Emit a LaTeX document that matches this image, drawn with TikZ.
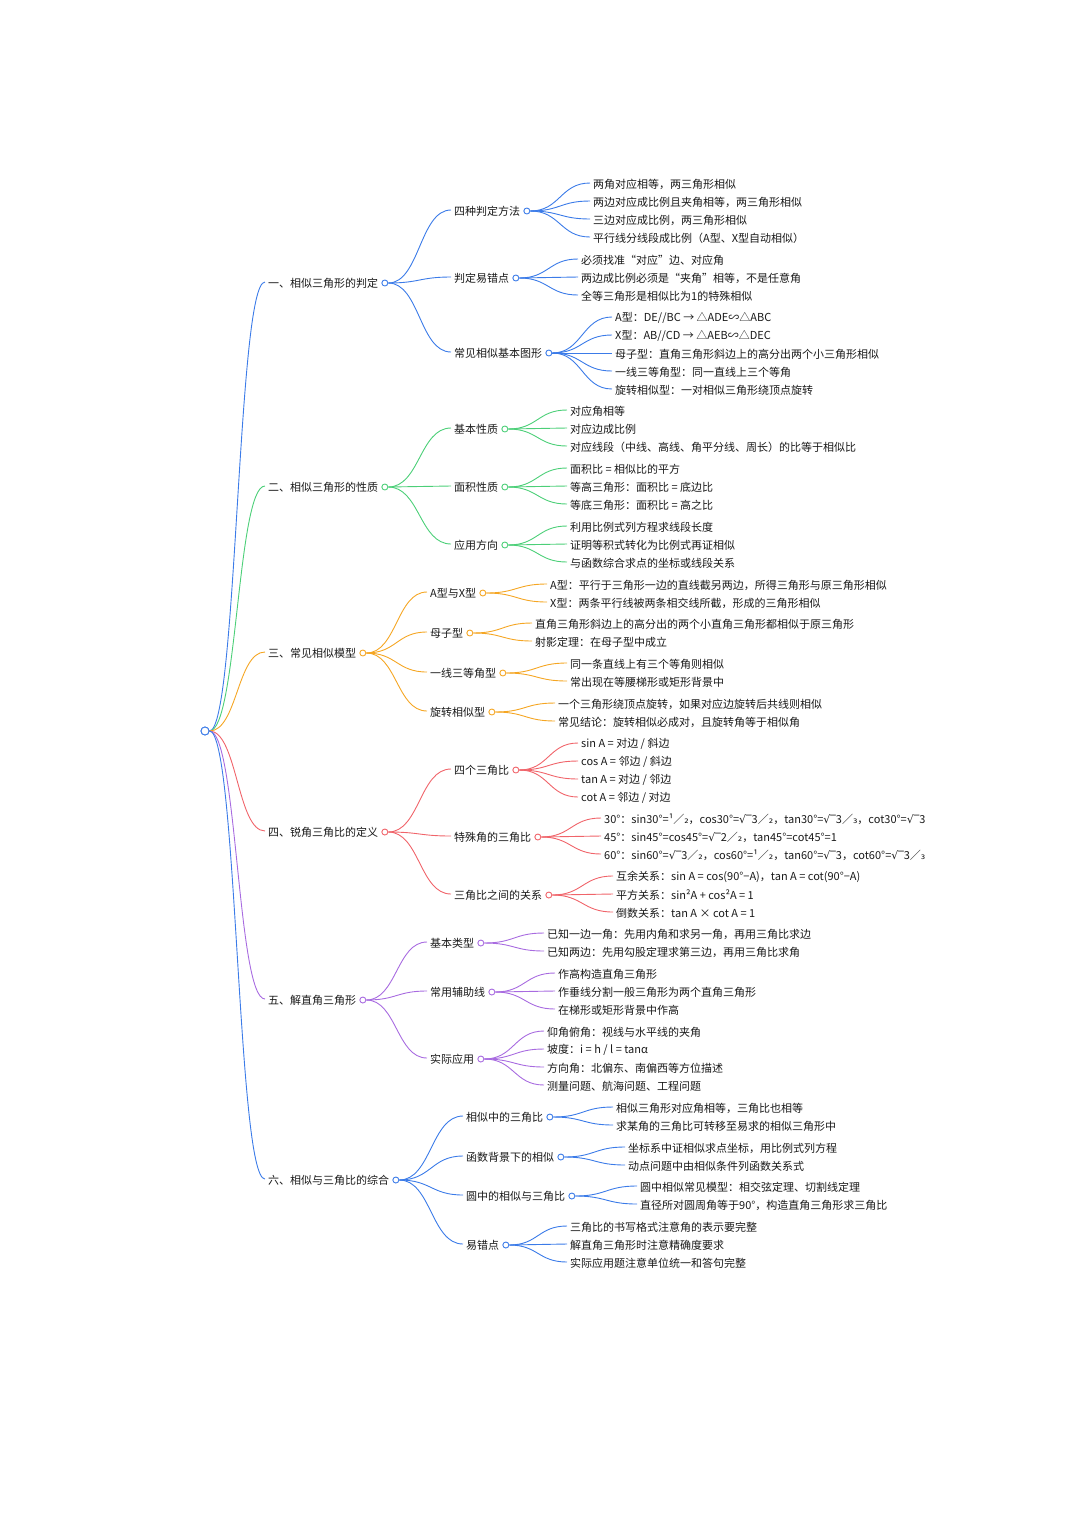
\documentclass[tikz,border=0pt]{standalone}
\usepackage{fontspec}
\setmainfont{Noto Sans CJK SC}
\newfontfamily\sym{DejaVu Sans}
\usetikzlibrary{positioning,calc}
\definecolor{cA}{HTML}{3B7BE8}
\definecolor{cB}{HTML}{4CCF78}
\definecolor{cC}{HTML}{F5A623}
\definecolor{cD}{HTML}{F0646A}
\definecolor{cE}{HTML}{A86BE0}
\tikzset{every picture/.style={x=1pt,y=-1pt}}
\newcommand\rad{{\sym √‾}}
\newcommand\lo[1]{{\sym #1}}
\begin{document}
\begin{tikzpicture}[
    txt/.style={anchor=west,inner sep=0pt,font=\fontsize{11}{13}\selectfont,text=black!90},
    dot/.style={circle,draw=#1,fill=white,line width=0.9pt,minimum size=6pt,inner sep=0pt},
    link/.style={line width=0.9pt}]
  \useasboundingbox (0,0) rectangle (1080,1527);

  % Helper macros.
  % S-shaped link between two points, #1 colour, #2 from, #3 to
  \def\bend#1#2#3{
    \draw[#1,link] let \p1=(#2), \p2=(#3), \n1={(\x2-\x1)*0.5} in
      (\p1) .. controls +(\n1,0) and +(-\n1,0) .. (\p2);
  }
  % #1 parent name, #2 colour, #3 x, #4 y, #5 node name, #6 text
  \def\topic#1#2#3#4#5#6{
    \node[txt] (#5) at (#3,#4) {#6};
    \bend{#2}{#1o.east}{[xshift=-3pt,yshift=1pt] #5.west}
    \node[dot=#2,right=3pt of #5] (#5o) {};
  }
  % #1 parent name, #2 colour, #3 x, #4 list of y/text
  \def\twigs#1#2#3#4{
    \foreach \y/\t in {#4} {
      \node[txt] (lf) at (#3,\y) {\t};
      \bend{#2}{#1o.east}{[xshift=-3pt,yshift=1pt] lf.west}
    }
  }

  % Root.
  \node[dot=cA,minimum size=8pt] (rto) at (205,731) {};

  % One: judging similar triangles.
  \topic{rt}{cA}{268}{283}{a}{一、相似三角形的判定}
  \topic{a}{cA}{454}{211}{a1}{四种判定方法}
  \topic{a}{cA}{454}{278}{a2}{判定易错点}
  \topic{a}{cA}{454}{353}{a3}{常见相似基本图形}
  \twigs{a1}{cA}{593}{184/{两角对应相等，两三角形相似},202/{两边对应成比例且夹角相等，两三角形相似},220/{三边对应成比例，两三角形相似},238/{平行线分线段成比例（A型、X型自动相似）}}
  \twigs{a2}{cA}{581}{260/{必须找准“对应”边、对应角},278/{两边成比例必须是“夹角”相等，不是任意角},296/{全等三角形是相似比为1的特殊相似}}
  \twigs{a3}{cA}{615}{318/{A型：DE//BC → △ADE∽△ABC},336/{X型：AB//CD → △AEB∽△DEC},354/{母子型：直角三角形斜边上的高分出两个小三角形相似},372/{一线三等角型：同一直线上三个等角},390/{旋转相似型：一对相似三角形绕顶点旋转}}

  % Two: properties.
  \topic{rt}{cB}{268}{487}{b}{二、相似三角形的性质}
  \topic{b}{cB}{454}{429}{b1}{基本性质}
  \topic{b}{cB}{454}{487}{b2}{面积性质}
  \topic{b}{cB}{454}{545}{b3}{应用方向}
  \twigs{b1}{cB}{570}{411/{对应角相等},429/{对应边成比例},447/{对应线段（中线、高线、角平分线、周长）的比等于相似比}}
  \twigs{b2}{cB}{570}{469/{面积比 = 相似比的平方},487/{等高三角形：面积比 = 底边比},505/{等底三角形：面积比 = 高之比}}
  \twigs{b3}{cB}{570}{527/{利用比例式列方程求线段长度},545/{证明等积式转化为比例式再证相似},563/{与函数综合求点的坐标或线段关系}}

  % Three: models.
  \topic{rt}{cC}{268}{653}{c}{三、常见相似模型}
  \topic{c}{cC}{430}{593}{c1}{A型与X型}
  \topic{c}{cC}{430}{633}{c2}{母子型}
  \topic{c}{cC}{430}{673}{c3}{一线三等角型}
  \topic{c}{cC}{430}{712}{c4}{旋转相似型}
  \twigs{c1}{cC}{550}{585/{A型：平行于三角形一边的直线截另两边，所得三角形与原三角形相似},603/{X型：两条平行线被两条相交线所截，形成的三角形相似}}
  \twigs{c2}{cC}{535}{624/{直角三角形斜边上的高分出的两个小直角三角形都相似于原三角形},642/{射影定理：在母子型中成立}}
  \twigs{c3}{cC}{570}{664/{同一条直线上有三个等角则相似},682/{常出现在等腰梯形或矩形背景中}}
  \twigs{c4}{cC}{558}{704/{一个三角形绕顶点旋转，如果对应边旋转后共线则相似},722/{常见结论：旋转相似必成对，且旋转角等于相似角}}

  % Four: trig ratios.
  \topic{rt}{cD}{268}{832}{d}{四、锐角三角比的定义}
  \topic{d}{cD}{454}{770}{d1}{四个三角比}
  \topic{d}{cD}{454}{837}{d2}{特殊角的三角比}
  \topic{d}{cD}{454}{895}{d3}{三角比之间的关系}
  \twigs{d1}{cD}{581}{744/{sin A = 对边 / 斜边},762/{cos A = 邻边 / 斜边},780/{tan A = 对边 / 邻边},798/{cot A = 邻边 / 对边}}
  \twigs{d2}{cD}{604}{819/{30°：sin30°=¹∕\lo{₂}，cos30°=\rad3∕\lo{₂}，tan30°=\rad3∕\lo{₃}，cot30°=\rad3},837/{45°：sin45°=cos45°=\rad2∕\lo{₂}，tan45°=cot45°=1},855/{60°：sin60°=\rad3∕\lo{₂}，cos60°=¹∕\lo{₂}，tan60°=\rad3，cot60°=\rad3∕\lo{₃}}}
  \twigs{d3}{cD}{616}{877/{互余关系：sin A = cos(90°−A)，tan A = cot(90°−A)},895/{平方关系：sin²A + cos²A = 1},913/{倒数关系：tan A × cot A = 1}}

  % Five: solving right triangles.
  \topic{rt}{cE}{268}{1000}{e}{五、解直角三角形}
  \topic{e}{cE}{430}{943}{e1}{基本类型}
  \topic{e}{cE}{430}{992}{e2}{常用辅助线}
  \topic{e}{cE}{430}{1059}{e3}{实际应用}
  \twigs{e1}{cE}{547}{934/{已知一边一角：先用内角和求另一角，再用三角比求边},952/{已知两边：先用勾股定理求第三边，再用三角比求角}}
  \twigs{e2}{cE}{558}{974/{作高构造直角三角形},992/{作垂线分割一般三角形为两个直角三角形},1010/{在梯形或矩形背景中作高}}
  \twigs{e3}{cE}{547}{1032/{仰角俯角：视线与水平线的夹角},1050/{坡度：i = h / l = tanα},1068/{方向角：北偏东、南偏西等方位描述},1086/{测量问题、航海问题、工程问题}}

  % Six: combined.
  \topic{rt}{cA}{268}{1180}{f}{六、相似与三角比的综合}
  \topic{f}{cA}{466}{1117}{f1}{相似中的三角比}
  \topic{f}{cA}{466}{1157}{f2}{函数背景下的相似}
  \topic{f}{cA}{466}{1196}{f3}{圆中的相似与三角比}
  \topic{f}{cA}{466}{1245}{f4}{易错点}
  \twigs{f1}{cA}{616}{1108/{相似三角形对应角相等，三角比也相等},1126/{求某角的三角比可转移至易求的相似三角形中}}
  \twigs{f2}{cA}{628}{1148/{坐标系中证相似求点坐标，用比例式列方程},1166/{动点问题中由相似条件列函数关系式}}
  \twigs{f3}{cA}{640}{1187/{圆中相似常见模型：相交弦定理、切割线定理},1205/{直径所对圆周角等于90°，构造直角三角形求三角比}}
  \twigs{f4}{cA}{570}{1227/{三角比的书写格式注意角的表示要完整},1245/{解直角三角形时注意精确度要求},1263/{实际应用题注意单位统一和答句完整}}

  % Keep root dot on top.
  \node[dot=cA,minimum size=8pt] at (rto) {};
\end{tikzpicture}
\end{document}
